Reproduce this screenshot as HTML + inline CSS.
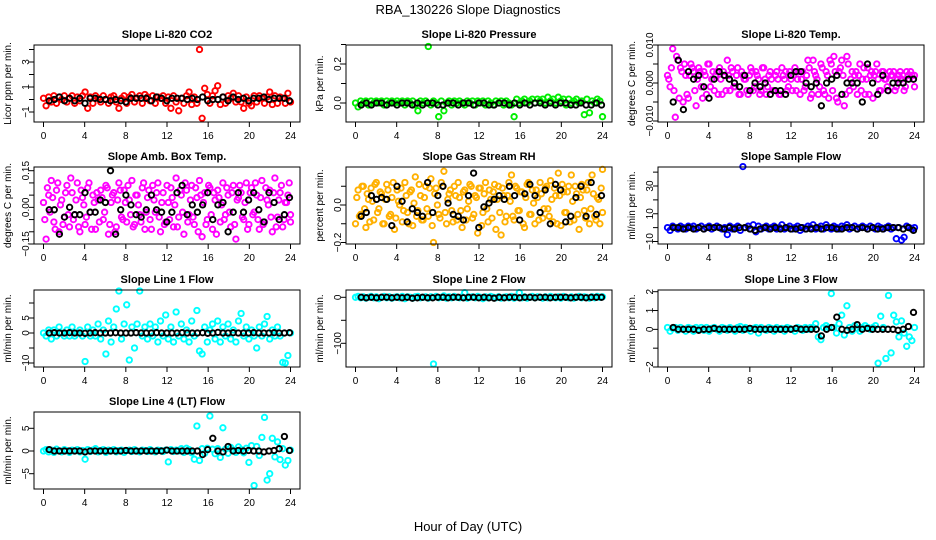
<!DOCTYPE html>
<html><head><meta charset="utf-8">
<style>
body{margin:0;background:#fff;}
svg{display:block;font-family:"Liberation Sans",sans-serif;}
</style></head>
<body>
<svg id="chart" width="936" height="540" viewBox="0 0 936 540">
<rect width="936" height="540" fill="#fff"/>
<text x="468" y="14" text-anchor="middle" font-size="13">RBA_130226  Slope Diagnostics</text>
<text x="468" y="531" text-anchor="middle" font-size="13">Hour of Day (UTC)</text>
</svg>
<script>
// ---- data (colored = per-sample slopes, black = per-cycle slopes) ----
const xTicks = [0,4,8,12,16,20,24];
const co2Col = [0.1,-0.5,0.2,-0.2,0.3,-0.3,0.2,0,0.3,-0.2,0.1,0.3,-0.3,0.2,-0.1,0.3,0.6,-0.7,0.2,-0.3,0.3,0.1,-0.2,0.3,0,-0.3,0.2,0.3,-0.2,-0.7,0.1,0.3,-0.3,0.2,0.4,-0.2,0.1,0.3,-0.3,0.4,0.2,-0.1,0.3,-0.3,0.2,0.1,0.3,-0.3,0.2,-0.7,0.3,-0.2,-0.9,0.1,-0.3,0.3,0.6,-0.4,0.2,-0.3,4.0,-1.5,0.9,0.4,-0.3,0.3,0.7,1.1,-0.4,0.2,-0.3,0.3,0.1,0.5,-0.2,0.3,-0.2,-0.7,0.2,-0.3,-0.5,0.3,-0.2,0.3,0.1,-0.3,0.2,0.6,-0.4,0.3,-0.3,0.2,0.1,-0.3,0.5,-0.2];
const co2Blk = [-0.1,0,0.2,-0.1,0.1,-0.1,0.1,-0.3,0.1,0.1,0,0,-0.1,0,-0.1,-0.2,0.1,0.1,0.1,0.1,-0.1,0.2,0.1,-0.1,0.1,0.1,0.1,0,0.1,0,0.2,-0.1,0,0,0.2,-0.1,0.2,0,0.1,-0.1,0.1,0.1,0.2,0,0.1,0.1,0.1,-0.1];
const presCol = [0,-0.02,0.01,0,0.01,-0.01,0.01,0,0.01,0,0.01,-0.01,0.01,0,0.01,0,0.01,0,0.01,-0.01,0.01,0,0.01,-0.01,-0.04,0.01,0,0.01,0.29,-0.01,0.01,0,-0.07,0.01,-0.04,0,0.01,-0.01,0.01,0,0.01,0,-0.01,0.01,0,0.01,-0.01,0.01,0,0.01,-0.01,0.01,0,-0.01,0.01,0,0.01,-0.01,0.01,0,-0.01,-0.07,0.02,0,0.01,0.02,0,0.01,0.02,0,0.02,0.01,0.02,0,0.03,0.01,0.02,0,0.03,0.01,0.02,-0.01,0.02,0,0.01,0.02,0,0.01,-0.06,0.02,-0.05,0.01,0,0.02,0.01,-0.07];
const presBlk = [-0.01,0,-0.01,0,0,-0.01,0,-0.01,0,0,-0.01,0,-0.01,0,0,-0.01,-0.01,0,0,-0.01,0,0,-0.01,0,0,-0.01,-0.01,0,0,-0.01,0,-0.01,0,-0.01,0,0,-0.01,0,-0.01,0,0,-0.01,-0.01,0,-0.01,-0.01,0,-0.01];
const tempCol = [0.002,-0.001,0.009,-0.009,0.006,0.004,-0.005,0.002,-0.004,0.005,0.003,-0.006,0.004,-0.001,0.003,-0.003,0.005,0.001,-0.002,0.003,0.004,-0.003,0.002,0.006,-0.002,0.003,-0.001,0.004,-0.003,0.002,0.001,-0.003,0.004,-0.002,0.003,0.001,-0.002,0.004,-0.003,0.002,0.001,-0.002,0.003,-0.003,0.004,0.001,-0.002,0.003,-0.002,0.004,0.001,-0.003,0.003,-0.001,0.006,-0.004,0.006,0.002,-0.003,0.005,-0.002,0.003,-0.004,0.005,0.007,-0.004,0.003,0.006,-0.006,0.007,-0.002,0.003,0.002,-0.003,0.005,0.001,-0.003,0.004,0.002,-0.004,0.003,0.001,-0.002,0.003,0.001,-0.002,0.002,0.003,-0.001,0.002,0.001,-0.002,0.003,0.001,0.002,-0.001];
const tempCol2 = [0.001,0.004,-0.002,0.007,-0.004,0.003,0.005,-0.003,0.002,0.004,-0.002,0.001,0.003,-0.004,0.002,0.005,-0.001,0.003,0.002,-0.003,0.001,0.003,-0.002,0.002,0.004,-0.001,0.002,-0.003,0.003,0.001,-0.002,0.002,0.003,-0.001,0.002,-0.003,0.004,0.001,-0.001,0.003,-0.002,0.002,0.001,-0.003,0.002,0.003,-0.001,0.001,0.002,-0.002,0.003,0.001,-0.002,0.002,0.004,-0.003,0.003,0.001,-0.001,0.004,-0.003,0.002,0.006,-0.002,0.003,-0.005,0.004,0.002,-0.003,0.005,0.001,-0.001,0.003,0.002,-0.002,0.004,0.001,-0.003,0.003,0.002,0.005,-0.002,0.003,0.001,-0.001,0.003,0.002,-0.002,0.001,0.003,0.002,-0.001,0.002,0.003,0.001,0.002];
const tempBlk = [-0.005,0.006,-0.007,0.003,0.001,0.002,-0.001,-0.004,0.001,0.003,0.002,0.001,0,-0.001,0.002,-0.002,0,-0.001,0,-0.003,-0.002,-0.002,-0.003,0.002,0.003,0.003,0,-0.001,0,-0.006,0,0.001,0.002,-0.003,0,0,0,-0.005,0.005,0,-0.003,0.002,-0.002,0,0,0,0.001,0.001];
const ambCol = [0.02,-0.13,0.05,0.11,-0.06,0.07,-0.1,0.03,-0.04,0.09,-0.08,0.06,-0.03,0.1,-0.1,0.04,-0.07,0.08,-0.02,0.05,-0.09,0.03,0.07,-0.05,0.09,-0.11,0.02,0.06,-0.08,0.1,-0.04,0.07,-0.06,0.03,0.11,-0.07,0.05,-0.03,0.08,-0.09,0.04,-0.05,0.09,-0.02,0.1,-0.1,0.06,-0.06,0.02,0.08,-0.08,0.12,-0.04,0.05,-0.11,0.07,-0.03,0.09,-0.07,0.04,0.11,-0.12,0.06,-0.05,0.08,-0.09,0.03,0.07,-0.06,0.1,-0.03,0.05,-0.08,0.09,-0.13,0.04,0.06,-0.05,0.1,-0.07,0.08,-0.02,0.05,-0.09,0.11,-0.06,0.03,0.07,-0.1,0.12,-0.04,0.06,-0.08,0.02,0.05,-0.03];
const ambCol2 = [-0.05,0.08,-0.02,0.04,-0.09,0.1,0.01,-0.07,0.06,-0.03,0.12,-0.05,0.03,-0.08,0.07,0.01,-0.04,0.1,-0.09,0.02,0.06,-0.06,0.04,-0.02,0.08,-0.07,0.05,-0.1,0.03,0.07,-0.05,0.02,0.09,-0.03,-0.08,0.05,0.01,-0.06,0.1,-0.02,0.07,-0.09,0.03,0.06,-0.04,0.02,-0.07,0.09,-0.05,0.04,0.01,-0.08,0.07,-0.02,0.1,-0.06,0.03,-0.04,0.08,-0.1,0.05,0.02,-0.07,0.09,-0.03,0.06,-0.11,0.04,0.01,-0.05,0.08,-0.02,0.06,-0.07,0.03,0.09,-0.04,0.02,-0.09,0.06,-0.03,0.1,-0.05,0.04,-0.07,0.08,0.01,-0.04,0.06,-0.08,0.03,0.09,-0.05,0.02,0.1,-0.06];
const ambBlk = [-0.01,-0.01,-0.11,-0.04,0,-0.03,-0.03,0.06,-0.02,-0.02,0.03,0.02,0.15,-0.11,-0.01,0.05,0.01,-0.03,-0.04,-0.01,0.05,-0.01,-0.02,-0.06,-0.02,0.06,0.09,-0.03,0.01,-0.02,0.01,0.06,-0.05,0.01,0.02,-0.1,-0.02,0.06,-0.02,0.03,0.06,-0.01,-0.06,0.06,0.02,-0.05,-0.03,0.04];
const rhCol = [-0.1,0.08,-0.05,0.1,-0.12,0.03,0.09,-0.08,0.12,-0.02,0.06,-0.1,0.11,-0.06,0.04,-0.13,0.08,0,-0.09,0.12,-0.04,0.07,-0.11,0.15,-0.03,0.05,-0.08,0.1,-0.06,0.14,-0.2,0.09,-0.05,0.12,0.18,-0.1,0.06,-0.03,0.1,-0.08,0.04,-0.12,0.08,-0.02,0.11,-0.07,0.05,-0.15,0.09,-0.04,0.12,-0.09,0.03,0.07,-0.13,0.1,-0.16,0.05,-0.06,0.12,0.16,-0.08,0.09,-0.03,0.07,-0.12,0.11,-0.05,0.08,-0.1,0.04,0.12,-0.07,0.09,-0.02,0.13,-0.09,0.05,0.17,-0.11,0.07,-0.04,0.1,0.16,-0.08,0.06,-0.13,0.11,-0.03,0.08,-0.1,0.16,-0.06,0.04,-0.1,0.19];
const rhCol2 = [0.04,-0.06,0.1,-0.02,0.06,-0.09,0.02,0.11,-0.04,0.07,-0.1,0.03,0.08,-0.05,0.12,-0.07,0.02,0.09,-0.03,0.05,-0.1,0.08,0.01,-0.06,0.11,-0.08,0.04,-0.02,0.09,-0.11,0.06,0,-0.07,0.1,-0.04,0.03,0.08,-0.09,0.05,0.12,-0.03,0.07,-0.08,0.02,0.1,-0.05,0.04,0.09,-0.11,0.06,-0.02,0.08,-0.07,0.11,0.03,-0.04,0.09,-0.09,0.05,0.02,-0.06,0.1,-0.03,0.07,-0.1,0.04,0.12,-0.05,0.01,0.08,-0.08,0.06,-0.02,0.1,-0.06,0.03,0.09,-0.1,0.05,0.11,-0.04,0.07,-0.09,0.02,0.1,-0.05,0.04,0.08,-0.07,0.12,-0.02,0.06,-0.08,0.03,0.09,-0.04];
const rhBlk = [-0.06,-0.04,0.05,0.03,0.04,0.03,-0.11,0.1,0.02,-0.09,-0.02,-0.04,-0.06,0.12,-0.04,0.05,0.1,0.01,-0.05,-0.06,-0.08,0.05,0.17,-0.12,-0.01,0.01,0.03,0.05,0.03,0.1,0.05,-0.08,0.06,0.11,0.05,-0.04,0.08,-0.1,0.11,0.08,-0.09,-0.06,0.04,0.1,-0.06,0.12,-0.05,0.05];
const flowCol = [0,-2,1,0,-1,1,0,-1,1,0,1,-1,0,1,-1,0,1,-1,0,1,0,-1,0,-5,1,-1,0,1,-2,44,0,1,-1,2,-3,1,-1,0,1,-1,0,1,-1,0,2,-1,0,1,-1,0,1,-2,0,-1,1,0,2,-1,0,1,-1,2,0,-1,1,0,-1,1,0,2,-1,0,1,-1,0,1,0,-1,1,0,-1,1,0,-1,0,1,-1,0,-8,0,-9,-7,1,0,-1,0];
const flowBlk = [0,0,-1,0,-1,0,-1,0,0,0,-1,0,-1,0,0,-1,-2,-1,0,-1,0,-1,0,-1,-1,0,-1,-1,0,-1,0,0,-1,-1,0,0,-1,0,-1,0,-1,-1,0,0,0,-1,0,-2];
const l1Col = [0,-1,1,-2,1,-1,2,0,-1,1,-1,2,-1,0,1,-1,-9.5,2,-1,1,-1,3,-2,1,-7,4,-3,2,8,14,-2,3,9.4,-9,2,-5,3,14,-1,2,-2,3,-1,2,-3,4,-1,6,-2,2,-3,7,-1,3,-2,1,-3,4,-1,7.5,-6,-7,2,-3,1,3,-2,4,-3,2,-1,3,-2,1,-3,4,6.5,-1,2,-2,1,-1,-5,2,-1,3,5.5,-2,1,-1,2,-1,-9.8,-10,-7.5,0];
const l1Blk = [0,0.1,0,0,0.1,0,0,-0.1,0,0.1,0,0,0,0.1,0,0,0,0.1,0,0,0,0.1,0,0,0,0,0.1,0,0,0,0.1,-0.1,0,0.2,0,0,0.1,0,0,0,0.1,0,0,0,0.1,0,0,0.1];
const l2Col = [0,2,-1,1,-2,0,2,-1,1,-3,0,2,-1,1,-2,0,1,-1,2,-3,1,0,-2,1,2,-1,0,1,-2,1,-145,2,-1,0,3,-2,1,-1,2,0,-1,1,10,-2,0,1,-1,2,0,-3,1,-1,2,0,-1,1,-2,0,1,-1,2,-2,0,10,-1,1,-2,0,2,-1,1,0,-2,1,-1,2,0,-1,1,-2,2,0,-1,1,-2,0,2,-1,1,0,-2,1,-1,2,0,1];
const l2Blk = [0,-1,0,-1,0,0,-1,0,-1,0,-2,-1,0,-1,-1,0,0,-1,0,0,-1,0,0,-1,0,-1,-2,0,-1,0,0,-1,0,0,-1,0,0,-1,0,0,0,-1,0,0,-1,0,0,0];
const l3Col = [0.1,-0.1,0.05,0.1,-0.05,0.1,0,-0.1,0.1,0.05,-0.1,0.1,0,0.1,-0.05,0.1,-0.1,0.05,0.1,0,-0.1,0.1,0.05,-0.05,0.1,0,-0.1,0.1,0.15,-0.05,0.1,0,-0.1,0.05,0.1,-0.2,0.1,0,-0.05,0.1,0.05,-0.1,0.1,0,0.05,-0.1,0.1,0.05,0,-0.1,0.1,0.05,-0.05,0.1,0,0.1,0.1,0.3,-0.4,-0.55,0.1,0.2,0.1,1.9,0.1,-0.2,0.3,0.75,-0.3,1.25,0.1,-0.1,0.2,0.05,-0.1,0.1,0.2,0.1,0,0.1,0.2,-1.8,0.7,0.1,-1.55,1.8,-1.25,0.75,0.4,-0.4,0.45,-0.2,-0.9,-0.4,-0.6,0.1];
const l3Blk = [0.1,0,0,0,0,-0.05,0,0,0.05,0,0,0,0,0,0,0.05,0,0,0,0,0,0,0,0,0.05,0,0,0,0,-0.35,0,0.1,0.65,0,-0.05,0,0.25,0,0.05,0,0,0,0,0,-0.05,0,0.15,0.9];
const l4Col = [0,0.3,-0.2,0.2,-0.3,0.4,0,-0.2,0.3,0.1,-0.3,0.2,0,0.3,-0.2,0.1,-1.8,0.3,-0.1,0.2,0.5,-0.2,0.1,0.3,-0.3,0.2,0,0.3,-0.2,0.1,0.2,-0.3,0.1,0.2,-0.1,0.3,0,-0.2,0.2,0.1,-0.1,0.3,0,-0.2,0.2,0.1,-0.1,0.2,-2.4,0.3,-0.1,0.2,0,0.5,-0.3,0.6,0.3,-0.4,-1.8,5.5,-2.1,0.5,-0.5,0.6,7.7,0.4,-0.6,0.5,-1.4,5.1,0.4,-0.5,0.8,0.2,-0.3,0.9,0.3,-0.4,0.6,-2.5,1.2,-7.6,1,-1,3,7.4,-6.4,-5,2.8,-1.3,2,-1.9,0.5,-3.1,-2.1,0.2];
const l4Blk = [0.3,0,0,0,0,0,0,-0.2,0,0,0,0,0,0,0,0.1,0,0,0,0,0,0,0,0.2,0,0,0,0,0,0,-0.8,0.3,2.8,0,-0.2,1.0,0,0.1,0,0.1,0,0,-0.2,0,0.1,0.5,3.2,0.1];

// ---- layout (positions only) ----
const colLeft = [34, 346, 658];
const rowTop = [45, 167, 290, 412];
const W = 266, H = 77;
const panels = [
 {name:'co2', title:'Slope Li-820 CO2', ylab:'Licor ppm per min.', col:'#ff0000', c:co2Col, c2:null, b:co2Blk, r:0, k:0, ref:[3,17,-1,67], ticks:[-1,0,1,2,3,4], labels:[-1,1,3]},
 {name:'pressure', title:'Slope Li-820 Pressure', ylab:'kPa per min.', col:'#00ee00', c:presCol, c2:null, b:presBlk, r:0, k:1, ref:[0.2,19,0,58], ticks:[0,0.1,0.2,0.3], labels:['0.0','0.2']},
 {name:'li820-temp', title:'Slope Li-820 Temp.', ylab:'degrees C per min.', col:'#ff00ff', c:tempCol, c2:tempCol2, b:tempBlk, r:0, k:2, ref:[0.01,0,-0.01,76], ticks:[-0.01,-0.005,0,0.005,0.01], labels:['-0.010','0.000','0.010']},
 {name:'amb-box-temp', title:'Slope Amb. Box Temp.', ylab:'degrees C per min.', col:'#ff00ff', c:ambCol, c2:ambCol2, b:ambBlk, r:1, k:0, ref:[0.15,3.7,-0.15,77], ticks:[-0.15,-0.1,-0.05,0,0.05,0.1,0.15], labels:['-0.15','0.00','0.15']},
 {name:'gas-stream-rh', title:'Slope Gas Stream RH', ylab:'percent per min.', col:'#ffb000', c:rhCol, c2:rhCol2, b:rhBlk, r:1, k:1, ref:[0,38,-0.2,75.5], ticks:[-0.2,-0.1,0,0.1], labels:['-0.2','0.0']},
 {name:'sample-flow', title:'Slope Sample Flow', ylab:'ml/min per min.', col:'#0000ff', c:flowCol, c2:null, b:flowBlk, r:1, k:2, ref:[30,19,-10,74.5], ticks:[-10,0,10,20,30,40], labels:[-10,10,30]},
 {name:'line1-flow', title:'Slope Line 1 Flow', ylab:'ml/min per min.', col:'#00ffff', c:l1Col, c2:null, b:l1Blk, r:2, k:0, ref:[5,28,-10,73], ticks:[-10,-5,0,5,10], labels:[-10,0,5]},
 {name:'line2-flow', title:'Slope Line 2 Flow', ylab:'ml/min per min.', col:'#00ffff', c:l2Col, c2:null, b:l2Blk, r:2, k:1, ref:[0,7.3,-100,53.3], ticks:[-100,-50,0], labels:[-100,0]},
 {name:'line3-flow', title:'Slope Line 3 Flow', ylab:'ml/min per min.', col:'#00ffff', c:l3Col, c2:null, b:l3Blk, r:2, k:2, ref:[2,1.7,-2,77], ticks:[-2,-1,0,1,2], labels:[-2,0,1,2]},
 {name:'line4-flow', title:'Slope Line 4 (LT) Flow', ylab:'ml/min per min.', col:'#00ffff', c:l4Col, c2:null, b:l4Blk, r:3, k:0, ref:[5,16.3,-5,61.7], ticks:[-5,0,5], labels:[-5,0,5]}
];
const NS='http://www.w3.org/2000/svg';
const svg=document.getElementById('chart');
function mk(tag, attrs, parent){const e=document.createElementNS(NS,tag);for(const k in attrs)e.setAttribute(k,attrs[k]);(parent||svg).appendChild(e);return e;}

panels.forEach(p=>{
  const L=colLeft[p.k], T=rowTop[p.r];
  const g=mk('g',{});
  
  
  const xs=h=>L+9.5+h*(247/24);
  const [v1,o1,v2,o2]=p.ref;
  const ys=v=>T+o1+(v-v1)*(o2-o1)/(v2-v1);
  const cg=mk('g',{fill:'none',stroke:p.col,'stroke-width':1.9},g);
  
  
  const drawSet=(arr,off)=>arr.forEach((v,i)=>{
    const cy=ys(v); if(cy<T-3||cy>T+H+3) return;
    const c=mk('circle',{cx:xs(Math.min(24,i*24/(arr.length-1)+off)).toFixed(1),cy:cy.toFixed(1),r:2.7},cg);
    
    
  });
  drawSet(p.c,0);
  if(p.c2) drawSet(p.c2,0.125);
  const bg=mk('g',{fill:'none',stroke:'#000','stroke-width':1.9},g);
  
  
  p.b.forEach((v,i)=>{
    const c=mk('circle',{cx:xs(0.55+i*23.35/(p.b.length-1)).toFixed(1),cy:ys(v).toFixed(1),r:2.7},bg);
    
    
  });
  const box=mk('rect',{x:L,y:T,width:W,height:H,fill:'none',stroke:'#000','stroke-width':1},g);
  
  
  xTicks.forEach(t=>{
    mk('line',{x1:xs(t),x2:xs(t),y1:T+H,y2:T+H+5,stroke:'#000'},g);
    const tx=mk('text',{x:xs(t),y:T+H+17,'text-anchor':'middle','font-size':10},g);
    tx.textContent=t;
    
    
  });
  p.ticks.forEach(t=>{ mk('line',{x1:L-5,x2:L,y1:ys(t),y2:ys(t),stroke:'#000'},g); });
  p.labels.forEach(t=>{
    const y=ys(parseFloat(t));
    const tx=mk('text',{x:0,y:0,transform:`translate(${L-5},${y}) rotate(-90)`,'text-anchor':'middle','font-size':10},g);
    tx.textContent=String(t).replace('-','\u2212');
    
    
  });
  const yl=mk('text',{x:0,y:0,transform:`translate(${L-23},${T+H/2}) rotate(-90)`,'text-anchor':'middle','font-size':10},g);
  yl.textContent=p.ylab;
  
  
  const ti=mk('text',{x:L+W/2,y:T-7,'text-anchor':'middle','font-size':11,'font-weight':'bold'},g);
  ti.textContent=p.title;
  
  
});
</script>
</body></html>
